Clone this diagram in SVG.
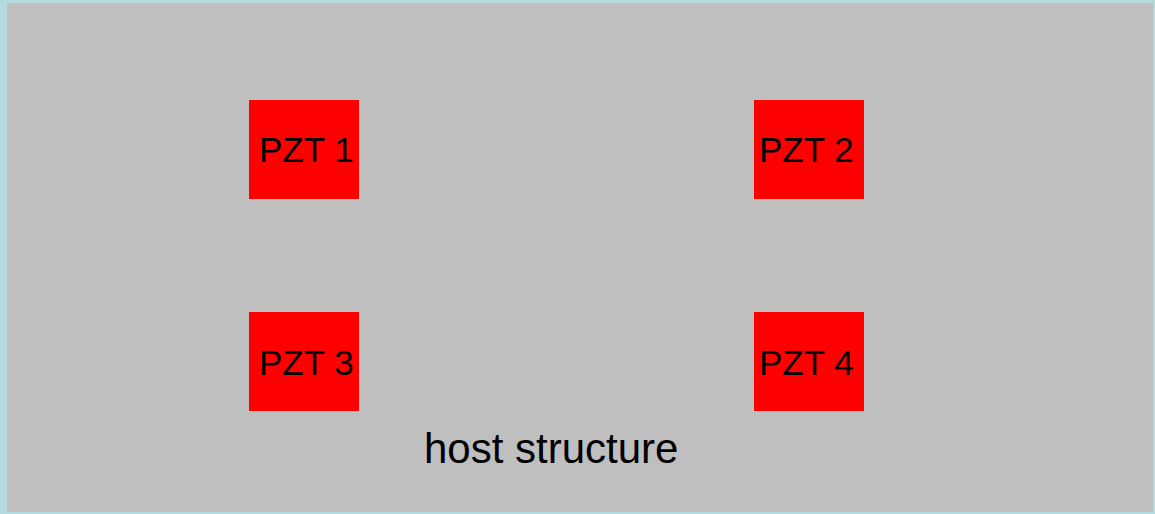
<svg xmlns="http://www.w3.org/2000/svg" width="1155" height="514" viewBox="0 0 1155 514">
  <style>
    .pzt rect { fill: #ff0000; }
    .lbl { font-family: "Liberation Sans", Arial, sans-serif; fill: #000000; }
    .pzt text { font-size: 35px; }
  </style>
  <!-- host structure plate -->
  <g id="host">
    <rect x="0" y="0" width="1155" height="514" fill="#b4dade"/>
    <rect x="7" y="3" width="1146" height="509" fill="#bfbfbf"/>
    <text class="lbl" x="424" y="463" font-size="42">host structure</text>
  </g>
  <g id="pzt1" class="pzt">
    <rect x="249" y="100" width="110" height="99"/>
    <text class="lbl" x="259" y="162">PZT 1</text>
  </g>
  <g id="pzt2" class="pzt">
    <rect x="754" y="100" width="110" height="99"/>
    <text class="lbl" x="759" y="162">PZT 2</text>
  </g>
  <g id="pzt3" class="pzt">
    <rect x="249" y="312" width="110" height="99"/>
    <text class="lbl" x="259" y="375">PZT 3</text>
  </g>
  <g id="pzt4" class="pzt">
    <rect x="754" y="312" width="110" height="99"/>
    <text class="lbl" x="759" y="375">PZT 4</text>
  </g>
  <g id="connectors"/>
</svg>
